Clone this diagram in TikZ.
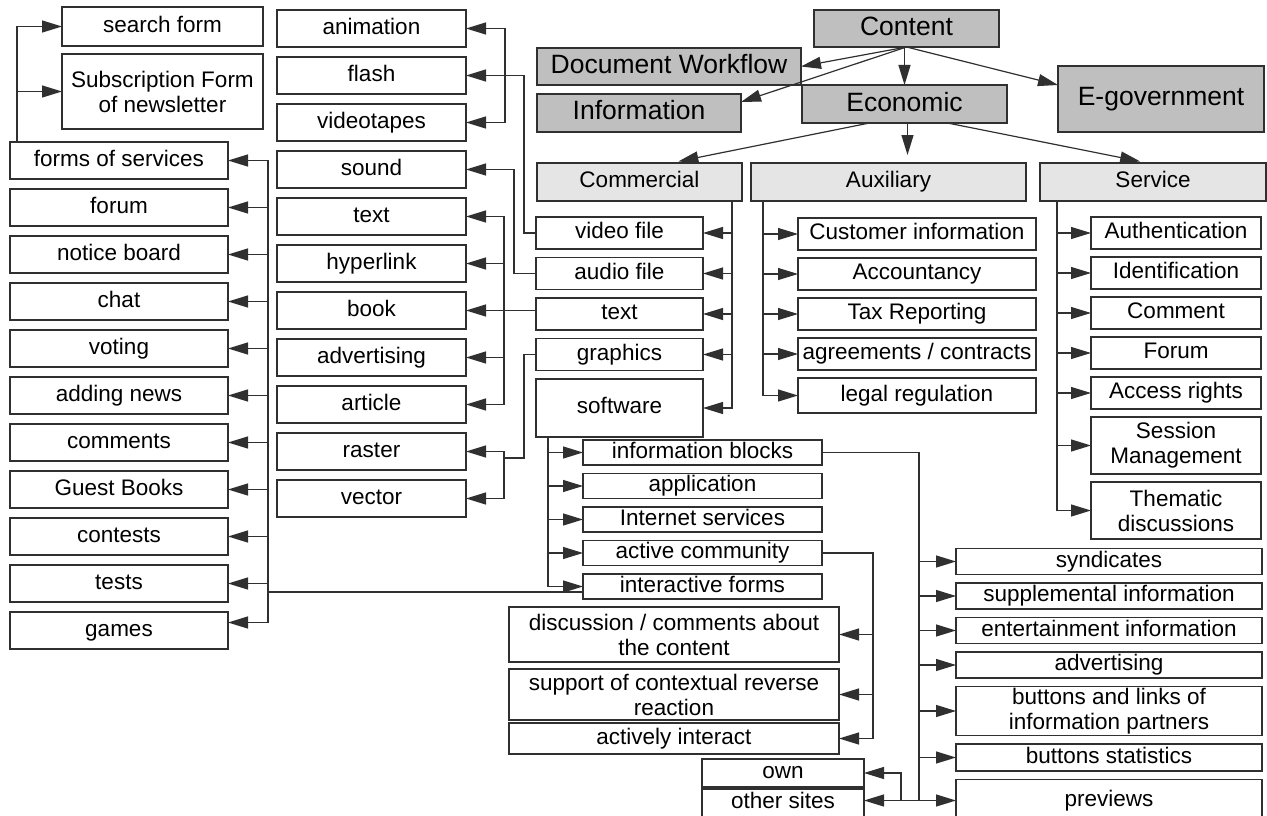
\documentclass[tikz,border=0pt]{standalone}
\usepackage{fontspec}
\setmainfont{Liberation Sans}
\usepackage{tikz}
\usetikzlibrary{arrows.meta}
\usetikzlibrary{positioning}
\definecolor{linegray}{HTML}{303030}
\definecolor{topgray}{gray}{0.75}
\definecolor{subgray}{gray}{0.9}
\newcommand\boxfont{\fontsize{22.5}{25}\selectfont}
\newcommand\headfont{\fontsize{26.5}{29}\selectfont}
\tikzset{
	node distance=10pt,
	every path/.style = {line width=1.2pt, color=linegray},
	every node/.style = {draw, rectangle, inner sep=0pt, outer sep=0pt, align=center, text=black,
		font=\boxfont, text height=16.5pt, text depth=4.7pt},
	twolines/.style = {text height=, text depth=},
	topbox/.style = {fill=topgray, font=\headfont, text height=19.5pt, text depth=5.5pt},
	subbox/.style = {fill=subgray, minimum height=38pt},
	leftbox/.style = {minimum width=218pt, minimum height=37pt},
	mediabox/.style = {minimum width=189pt, minimum height=37pt},
	combox/.style = {minimum width=167pt, minimum height=32pt},
	auxbox/.style = {minimum width=238pt, minimum height=32pt},
	servbox/.style = {minimum width=170pt, minimum height=32pt},
	softbox/.style = {minimum width=239pt, minimum height=25pt},
	actbox/.style = {minimum width=330pt},
	infobox/.style = {minimum width=306pt, minimum height=26pt},
	sitebox/.style = {minimum width=162pt, minimum height=28pt}
}

\begin{document}
\begin{tikzpicture}[x=1pt, y=-1pt, -{Triangle[length=20pt,width=12pt]}]
	\useasboundingbox (0,0) rectangle (1267,816);
	\fill[white] (0,0) rectangle (1267,816);
	% top levels
	\node (content) [topbox, minimum width=185pt, minimum height=37pt] at (906.5,28.5) {Content};
	\node (docwf) [topbox, minimum width=264pt, minimum height=37pt] at (669,66.5) {Document Workflow};
	\node (info) [topbox, minimum width=204pt, minimum height=38pt] at (639,113) {Information};
	\node (economic) [topbox, minimum width=205pt, minimum height=38pt] at (904.5,104) {Economic};
	\node (egov) [topbox, minimum width=206pt, minimum height=66pt] at (1161,99) {E-government};
	\node (commercial) [subbox, minimum width=205pt] at (639.5,182) {Commercial};
	\node (auxiliary) [subbox, minimum width=275pt] at (888.5,182) {Auxiliary};
	\node (service) [subbox, minimum width=226pt] at (1153,182) {Service};
	% commercial
	\node (video) [combox] at (619.5,233) {video file};
	\node (audio) [combox, below=8.5pt of video] {audio file};
	\node (ctext) [combox, below=8.5pt of audio] {text};
	\node (graph) [combox, below=8.5pt of ctext] {graphics};
	\node (soft) [combox, minimum height=58pt, below=8.5pt of graph] {software};
	% auxiliary
	\node (cust) [auxbox] at (917,234) {Customer information};
	\node (acc) [auxbox, below=8pt of cust] {Accountancy};
	\node (tax) [auxbox, below=8pt of acc] {Tax Reporting};
	\node (agree) [auxbox, below=8pt of tax] {agreements / contracts};
	\node (legal) [auxbox, minimum height=35pt, below=8pt of agree] {legal regulation};
	% service
	\node (auth) [servbox] at (1176,233) {Authentication};
	\node (ident) [servbox, below=8pt of auth] {Identification};
	\node (comment) [servbox, below=8pt of ident] {Comment};
	\node (sforum) [servbox, below=8pt of comment] {Forum};
	\node (access) [servbox, below=8pt of sforum] {Access rights};
	\node (session) [servbox, twolines, minimum height=57pt, below=8pt of access] {Session\\Management};
	\node (thematic) [servbox, twolines, minimum height=57pt, below=8pt of session] {Thematic\\discussions};
	% software
	\node (infob) [softbox] at (702.5,452.5) {information blocks};
	\node (appl) [softbox, below=8.5pt of infob] {application};
	\node (inet) [softbox, below=8.5pt of appl] {Internet services};
	\node (activec) [softbox, below=8.5pt of inet] {active community};
	\node (interf) [softbox, below=8.5pt of activec] {interactive forms};
	% active community
	\node (disc) [actbox, twolines, minimum height=55pt] at (674,634.5) {discussion / comments about\\the content};
	\node (supp) [actbox, twolines, minimum height=51pt, below=7pt of disc] {support of contextual reverse\\reaction};
	\node (actint) [actbox, minimum height=31pt, below=3pt of supp] {actively interact};
	% information blocks
	\node (synd) [infobox] at (1109,561.5) {syndicates};
	\node (suppl) [infobox, below=8.5pt of synd] {supplemental information};
	\node (ent) [infobox, below=8.5pt of suppl] {entertainment information};
	\node (adv) [infobox, below=8.5pt of ent] {advertising};
	\node (buttons) [infobox, twolines, minimum height=49pt, below=8.5pt of adv] {buttons and links of\\information partners};
	\node (bstat) [infobox, minimum height=27pt, below=8.5pt of buttons] {buttons statistics};
	\node (previews) [infobox, minimum height=42pt, below=8.5pt of bstat] {previews};
	\node (own) [sitebox] at (783,773) {own};
	\node (other) [sitebox, below=2pt of own] {other sites};
	% media column
	\node (anim) [mediabox] at (371.5,28.5) {animation};
	\node (flash) [mediabox, below=of anim] {flash};
	\node (vtape) [mediabox, below=of flash] {videotapes};
	\node (sound) [mediabox, below=of vtape] {sound};
	\node (btext) [mediabox, below=of sound] {text};
	\node (hyper) [mediabox, below=of btext] {hyperlink};
	\node (book) [mediabox, below=of hyper] {book};
	\node (badv) [mediabox, below=of book] {advertising};
	\node (article) [mediabox, below=of badv] {article};
	\node (raster) [mediabox, below=of article] {raster};
	\node (vector) [mediabox, below=of raster] {vector};
	% forms column
	\node (search) [minimum width=201pt, minimum height=39pt] at (162.5,26.5) {search form};
	\node (subscr) [twolines, minimum width=201pt, minimum height=75pt, below=8pt of search] {Subscription Form\\of newsletter};
	\node (forms) [leftbox] at (119,160.5) {forms of services};
	\node (forum) [leftbox, below=of forms] {forum};
	\node (notice) [leftbox, below=of forum] {notice board};
	\node (chat) [leftbox, below=of notice] {chat};
	\node (voting) [leftbox, below=of chat] {voting};
	\node (addnews) [leftbox, below=of voting] {adding news};
	\node (comments) [leftbox, below=of addnews] {comments};
	\node (guest) [leftbox, below=of comments] {Guest Books};
	\node (contests) [leftbox, below=of guest] {contests};
	\node (tests) [leftbox, below=of contests] {tests};
	\node (games) [leftbox, below=of tests] {games};
	% connectors
	\draw (content.south) -- (docwf.east);
	\draw (content.south) -- ([yshift=11pt]info.east);
	\draw (economic.north |- content.south) -- (economic.north);
	\draw (content.south) -- ([yshift=14pt]egov.west);
	\coordinate (ecoaux) at ([xshift=3pt]economic.south);
	\draw[shorten >=8pt] ([xshift=-35pt]economic.south) -- ([xshift=31pt]commercial.north);
	\draw[shorten >=8pt] (ecoaux) -- (ecoaux |- auxiliary.north);
	\draw[shorten >=8pt] ([xshift=43pt]economic.south) -- ([xshift=-5pt]service.north);
	\foreach \n in {video,audio,ctext,graph,soft}
		\draw ([xshift=-10pt]commercial.south east) |- (\n.east);
	\foreach \n in {cust,acc,tax,agree,legal}
		\draw ([xshift=12pt]auxiliary.south west) |- (\n.west);
	\foreach \n in {auth,ident,comment,sforum,access,session,thematic}
		\draw ([xshift=17pt]service.south west) |- (\n.west);
	\foreach \n in {infob,appl,inet,activec,interf}
		\draw ([xshift=12pt]soft.south west) |- (\n.west);
	\foreach \n in {disc,supp,actint}
		\draw (activec.east) -- ++(51,0) |- (\n.east);
	\foreach \n in {synd,suppl,ent,adv,buttons,bstat,previews}
		\draw (infob.east) -- ++(97,0) |- (\n.west);
	\draw (previews.west) -- (previews.west -| other.east);
	\draw ([xshift=-55pt]previews.west) |- (own.east);
	\draw (video.west) -- ++(-12,0) |- (flash.east);
	\coordinate (vj) at ([xshift=39pt]flash.east);
	\draw (vj) |- (anim.east);
	\draw (vj) |- (vtape.east);
	\draw (audio.west) -- ++(-22,0) |- (sound.east);
	\draw (ctext.west |- book.east) -- (book.east);
	\coordinate (tj) at ([xshift=38pt]book.east);
	\foreach \n in {btext,hyper,badv,article}
		\draw (tj) |- (\n.east);
	\coordinate (gj) at (504,458);
	\draw[-] (graph.west) -- ++(-12,0) |- (gj);
	\draw (gj) |- (raster.east);
	\draw (gj) |- (vector.east);
	\coordinate (lbus) at (268,592);
	\draw[-] ([yshift=-5.5pt]interf.west) -- (lbus);
	\foreach \n in {forms,forum,notice,chat,voting,addnews,comments,guest,contests,tests}
		\draw (lbus) |- (\n.east);
	\draw (lbus) |- ([yshift=8pt]games.east);
	\draw ([xshift=7pt]forms.north west) |- (search.west);
	\draw ([xshift=7pt]forms.north west) |- (subscr.west);
\end{tikzpicture}
\end{document}
